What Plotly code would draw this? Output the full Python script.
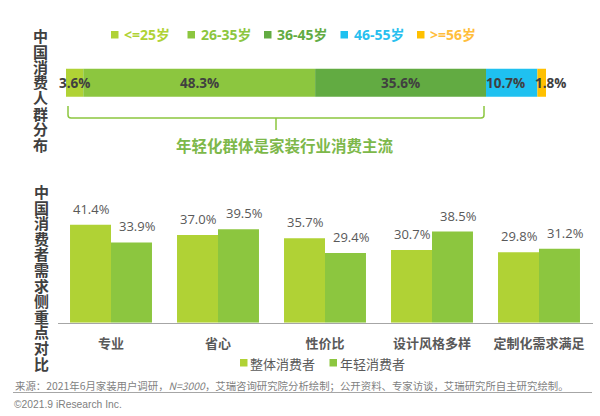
import numpy as np
import plotly.graph_objects as go

# top bar: age share
age_groups = ['<=25岁', '26-35岁', '36-45岁', '46-55岁', '>=56岁']
age_share = [3.6, 48.3, 35.6, 10.7, 1.8]
age_colors = ['#B0D235', '#8CC63F', '#62AB42', '#1FC1F0', '#FFC000']
age_text_colors = ['#B0D235', '#8CC63F', '#62AB42', '#29BFEF', '#FFBE3C']

# bottom chart: demand focus
categories = ['专业', '省心', '性价比', '设计风格多样', '定制化需求满足']
overall = [41.4, 37.0, 35.7, 30.7, 29.8]
young = [33.9, 39.5, 29.4, 38.5, 31.2]
series_names = ['整体消费者', '年轻消费者']
series_colors = ['#B0D235', '#8CC63F']

title_top = '中国消费人群分布'
title_bottom = '中国消费者需求侧重点对比'
callout = '年轻化群体是家装行业消费主流'
source_text = ('来源：2021年6月家装用户调研，<i>N=3000</i>，艾瑞咨询研究院分析绘制；'
               '公开资料、专家访谈，艾瑞研究所自主研究绘制。')
copyright_text = '©2021.9 iResearch Inc.'

W, H = 600, 416
CJK = 'Noto Sans CJK SC'
LATIN = 'Open Sans, Noto Sans CJK SC'
GRAY = '#595959'


def px(x):
    return x / W


def py(y):
    return 1 - y / H


def note(x, y, text, size, color, bold=False, family=LATIN, anchor='center'):
    return dict(x=px(x), y=py(y), xref='paper', yref='paper', text=text, showarrow=False,
                xanchor=anchor, yanchor='middle',
                font=dict(size=size, color=color, family=family, weight='bold' if bold else 'normal'))


fig = go.Figure()

# stacked by hand with base because the layout barmode is shared with the grouped chart
starts = np.concatenate([[0], np.cumsum(age_share)[:-1]])
for i, name in enumerate(age_groups):
    fig.add_trace(go.Bar(
        y=['share'], x=[age_share[i]], base=[starts[i]], orientation='h', name=name,
        marker=dict(color=age_colors[i], line_width=0), offsetgroup='age',
        xaxis='x', yaxis='y', showlegend=False,
    ))

for name, vals, color in zip(series_names, [overall, young], series_colors):
    fig.add_trace(go.Bar(
        x=categories, y=vals, name=name, marker=dict(color=color, line_width=0),
        xaxis='x2', yaxis='y2', showlegend=False,
    ))

ann = []

# segment labels as annotations, the narrow ones spill over their neighbours
for start, share, xshift in zip(starts, age_share, [0, 0, 0, -6.5, 8.5]):
    ann.append(dict(x=start + share / 2, y='share', xref='x', yref='y',
                    text=f'{share}%', showarrow=False, xshift=xshift,
                    font=dict(size=13.5, color='#404040', family=LATIN, weight='bold')))

# bar value labels, second series is nudged right in the reference
for vals, xshift in [(overall, -20), (young, 26)]:
    for cat, v in zip(categories, vals):
        ann.append(dict(x=cat, y=v, xref='x2', yref='y2', text=f'{v:.1f}%', showarrow=False,
                        xshift=xshift, yshift=16,
                        font=dict(size=13, color=GRAY, family=LATIN)))

# vertical side titles, one character per line
for i, ch in enumerate(title_top):
    ann.append(note(40, 35.5 + i * 15.5, ch, 15, '#404040', True, CJK))
for i, ch in enumerate(title_bottom):
    ann.append(note(41, 191.5 + i * 15.6, ch, 15, '#404040', True, CJK))

shapes = []

# top legend
for i, name in enumerate(age_groups):
    x0 = 111 + i * 76.5
    shapes.append(dict(type='rect', xref='paper', yref='paper', x0=px(x0), x1=px(x0 + 7.5),
                       y0=py(31), y1=py(38.5), fillcolor=age_colors[i], line_width=0))
    ann.append(note(x0 + 11, 34.5, name.replace('<', '&lt;'), 14, age_text_colors[i], True, LATIN, 'left'))

# bottom legend
for x0, name, color in zip([240, 329.5], series_names, series_colors):
    shapes.append(dict(type='rect', xref='paper', yref='paper', x0=px(x0), x1=px(x0 + 7.5),
                       y0=py(359), y1=py(366.5), fillcolor=color, line_width=0))
    ann.append(note(x0 + 8, 363, name, 13, GRAY, False, CJK, 'left'))

# bracket under the bar
bracket = (f'M {px(68)} {py(106)} L {px(68)} {py(115)} Q {px(68)} {py(118)} {px(71)} {py(118)} '
           f'L {px(481)} {py(118)} Q {px(484)} {py(118)} {px(484)} {py(115)} L {px(484)} {py(106)} '
           f'M {px(276)} {py(118)} L {px(276)} {py(130)}')
shapes.append(dict(type='path', xref='paper', yref='paper', path=bracket,
                   line=dict(color='#8CC63F', width=1.5)))
ann.append(note(285, 145, callout, 15.5, '#7DB84A', True, CJK))

# footer
shapes.append(dict(type='line', xref='paper', yref='paper', x0=px(13), x1=px(592),
                   y0=py(392.5), y1=py(392.5), line=dict(color='#A6A6A6', width=1)))
ann.append(note(13, 385, source_text, 10.4, '#7F7F7F', False, CJK, 'left'))
ann.append(note(12, 404, copyright_text, 10.3, '#808080', False, 'Liberation Sans', 'left'))

fig.update_layout(
    width=W, height=H, margin=dict(l=0, r=0, t=0, b=0),
    paper_bgcolor='white', plot_bgcolor='white',
    barmode='group', bargap=0.234, bargroupgap=0,
    annotations=ann, shapes=shapes, showlegend=False,
    xaxis=dict(domain=[px(66), px(546)], range=[0, sum(age_share)], visible=False, anchor='y'),
    yaxis=dict(domain=[py(82.7 + 18.3), py(82.7 - 18.3)], visible=False, anchor='x', type='category'),
    xaxis2=dict(domain=[px(57.5), px(592.5)], anchor='y2', type='category', showgrid=False,
                showline=True, linecolor='#A6A6A6', linewidth=1, ticks='',
                tickfont=dict(size=13, color=GRAY, family=CJK, weight='bold'),
                ticklabelstandoff=9),
    yaxis2=dict(domain=[py(322.7), py(190.1)], range=[0, 56], visible=False, anchor='x2'),
)

fig.write_html("out.html", config={'displayModeBar': False},
               post_script="document.body.style.margin='0';")
